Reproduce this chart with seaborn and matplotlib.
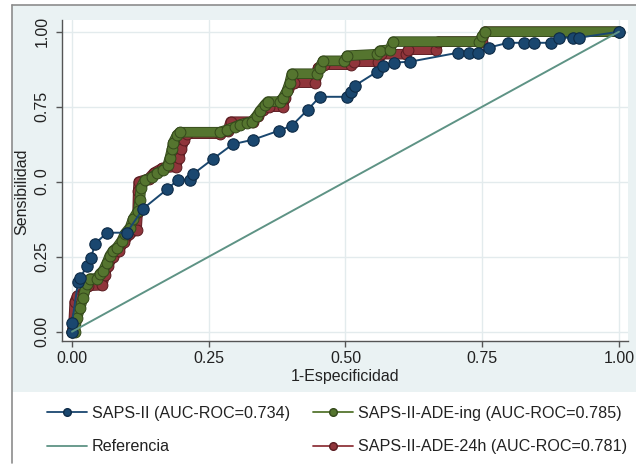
import numpy as np
import pandas as pd
import matplotlib
matplotlib.use("Agg")
import matplotlib.pyplot as plt
import matplotlib.patheffects as pe
from matplotlib.lines import Line2D
from matplotlib.patches import Rectangle
import seaborn as sns

# ---------------- data ----------------
saps_x = [0.0, 0.0, 0.011, 0.015, 0.027, 0.035, 0.042, 0.064, 0.100, 0.130, 0.174,
          0.194, 0.216, 0.221, 0.257, 0.294, 0.331, 0.378, 0.402, 0.431, 0.453,
          0.503, 0.510, 0.517, 0.558, 0.569, 0.589, 0.618, 0.706, 0.726, 0.742,
          0.762, 0.797, 0.826, 0.845, 0.876, 0.890, 0.916, 0.927, 1.0]
saps_y = [0.0, 0.03, 0.165, 0.178, 0.22, 0.247, 0.293, 0.33, 0.33, 0.41, 0.475,
          0.507, 0.507, 0.525, 0.575, 0.625, 0.64, 0.67, 0.687, 0.74, 0.783,
          0.783, 0.80, 0.82, 0.867, 0.887, 0.897, 0.90, 0.93, 0.93, 0.93,
          0.947, 0.963, 0.963, 0.963, 0.963, 0.98, 0.98, 0.98, 1.0]

ing_x = [0.0, 0.005, 0.009, 0.015, 0.020, 0.027, 0.033, 0.046, 0.051, 0.057, 0.064,
         0.069, 0.075, 0.082, 0.091, 0.097, 0.106, 0.112, 0.121, 0.124, 0.126,
         0.133, 0.146, 0.155, 0.166, 0.175, 0.179, 0.183, 0.185, 0.192, 0.197,
         0.270, 0.283, 0.298, 0.307, 0.320, 0.329, 0.338, 0.344, 0.353, 0.358,
         0.380, 0.386, 0.393, 0.398, 0.402, 0.448, 0.453, 0.459, 0.498, 0.503,
         0.558, 0.563, 0.581, 0.587, 0.745, 0.750, 0.755, 1.0]
ing_y = [0.0, 0.0, 0.047, 0.08, 0.113, 0.16, 0.177, 0.177, 0.193, 0.203, 0.23,
         0.253, 0.27, 0.28, 0.303, 0.327, 0.347, 0.377, 0.403, 0.44, 0.48,
         0.505, 0.515, 0.528, 0.538, 0.555, 0.58, 0.61, 0.63, 0.655, 0.665,
         0.665, 0.673, 0.683, 0.69, 0.697, 0.70, 0.72, 0.737, 0.757, 0.767,
         0.767, 0.78, 0.803, 0.83, 0.86, 0.86, 0.88, 0.903, 0.903, 0.92,
         0.925, 0.937, 0.94, 0.967, 0.967, 0.985, 1.0, 1.0]

h24_x = [0.0, 0.003, 0.005, 0.010, 0.020, 0.030, 0.055, 0.060, 0.065, 0.075, 0.085,
         0.095, 0.105, 0.118, 0.120, 0.121, 0.122, 0.140, 0.150, 0.165, 0.190,
         0.195, 0.200, 0.205, 0.210, 0.270, 0.285, 0.290, 0.330, 0.340, 0.350,
         0.360, 0.385, 0.390, 0.395, 0.405, 0.445, 0.450, 0.460, 0.510, 0.515,
         0.560, 0.565, 0.610, 0.615, 0.665, 0.670, 0.750, 0.755, 1.0]
h24_y = [0.0, 0.03, 0.10, 0.12, 0.13, 0.153, 0.155, 0.19, 0.22, 0.25, 0.27,
         0.30, 0.325, 0.34, 0.40, 0.47, 0.50, 0.51, 0.53, 0.545, 0.55,
         0.58, 0.61, 0.64, 0.66, 0.66, 0.67, 0.70, 0.70, 0.72, 0.74,
         0.75, 0.75, 0.78, 0.81, 0.83, 0.83, 0.88, 0.89, 0.89, 0.90,
         0.90, 0.925, 0.925, 0.94, 0.94, 0.967, 0.967, 1.0, 1.0]

ref_x = [0.0, 1.0]
ref_y = [0.0, 1.0]

tick_values = [0.0, 0.25, 0.5, 0.75, 1.0]
xtick_labels = ["0.00", "0.25", "0.50", "0.75", "1.00"]
ytick_labels = ["0.00", "0.25", "0. 0", "0.75", "1.00"]

label_saps = "SAPS-II (AUC-ROC=0.734)"
label_ing = "SAPS-II-ADE-ing (AUC-ROC=0.785)"
label_ref = "Referencia"
label_24h = "SAPS-II-ADE-24h (AUC-ROC=0.781)"

# ---------------- style ----------------
sns.set_theme(style="white")
plt.rcParams['font.family'] = ['Liberation Sans', 'DejaVu Sans']

NAVY, NAVY_E = "#1a476f", "#0e2b47"
GREEN, GREEN_E = "#55752f", "#34491b"
MAROON, MAROON_E = "#90353b", "#5a1c21"
TEAL = "#5e9385"
PANEL = "#eaf2f3"
GRID = "#e3ebed"
TXT = "#222222"

W, H = 636, 467
fig = plt.figure(figsize=(W / 100, H / 100), dpi=100)
fig.patch.set_facecolor("white")

# light outer panel + frame
fig.patches.append(Rectangle((12 / W, 1 - 392 / H), (W - 12) / W, (392 - 5) / H,
                             transform=fig.transFigure, facecolor=PANEL,
                             edgecolor="none", zorder=-10))
fig.add_artist(Line2D([12 / W, 12 / W], [1 - 5 / H, 1 - 463 / H],
                      transform=fig.transFigure, color="#8c8c8c", lw=1.2,
                      zorder=-5))
fig.add_artist(Line2D([12 / W, 1.0], [1 - 5 / H, 1 - 5 / H],
                      transform=fig.transFigure, color="#8c8c8c", lw=1.2,
                      zorder=-5))

ax = fig.add_axes([62 / W, 1 - 341 / H, (628 - 62) / W, (341 - 20) / H])
ax.set_zorder(5)
ax.set_facecolor("white")

# reference diagonal
sns.lineplot(x=ref_x, y=ref_y, ax=ax, color=TEAL, lw=1.4, sort=False,
             estimator=None, zorder=6)


def band(xs, ys, fc, ec, z):
    # thick band following the staircase of points
    sns.lineplot(x=xs, y=ys, ax=ax, sort=False, estimator=None, color=fc,
                 lw=6.4, solid_joinstyle="round", solid_capstyle="round",
                 zorder=z,
                 path_effects=[pe.Stroke(linewidth=7.6, foreground=ec),
                               pe.Normal()])
    # the points themselves
    sns.lineplot(x=xs, y=ys, ax=ax, sort=False, estimator=None, color=fc,
                 linestyle="none", marker="o", markersize=7.8,
                 markerfacecolor=fc, markeredgecolor=ec, markeredgewidth=0.7,
                 zorder=z + 0.1)


band(h24_x, h24_y, MAROON, MAROON_E, 3)
band(ing_x, ing_y, GREEN, GREEN_E, 4)

sns.lineplot(x=saps_x, y=saps_y, ax=ax, sort=False, estimator=None, color=NAVY,
             lw=1.4, marker="o", markersize=8.2, markerfacecolor=NAVY,
             markeredgecolor=NAVY_E, markeredgewidth=0.8, zorder=5)

# axes
ax.set_xlim(-0.0183, 1.0165)
ax.set_ylim(-0.031, 1.039)
ax.set_xticks(tick_values)
ax.set_xticklabels(xtick_labels)
ax.set_yticks(tick_values)
ax.set_yticklabels(ytick_labels, rotation=90, va="center")
ax.grid(True, color=GRID, lw=1.0)
ax.set_axisbelow(True)
for s in ["top", "right"]:
    ax.spines[s].set_visible(False)
for s in ["left", "bottom"]:
    ax.spines[s].set_color("#555555")
    ax.spines[s].set_linewidth(1.0)
ax.tick_params(axis="both", direction="out", length=4, width=1.0,
               color="#555555", labelsize=11.5, labelcolor=TXT, pad=3,
               bottom=True, left=True)
ax.tick_params(axis="y", pad=5)

ax.set_xlabel("1-Especificidad", fontsize=11.5, color=TXT)
ax.xaxis.set_label_coords(0.5, -0.088)
ax.set_ylabel("Sensibilidad", fontsize=11.5, color=TXT)
ax.yaxis.set_label_coords(-0.057, 0.465)

# legend (column-first order)
h_saps = Line2D([], [], color=NAVY, lw=1.3, marker="o", markersize=5.5,
                markerfacecolor=NAVY, markeredgecolor=NAVY_E)
h_ref = Line2D([], [], color=TEAL, lw=1.3)
h_ing = Line2D([], [], color=GREEN, lw=1.3, marker="o", markersize=5.5,
               markerfacecolor=GREEN, markeredgecolor=GREEN_E)
h_24h = Line2D([], [], color=MAROON, lw=1.3, marker="o", markersize=5.5,
               markerfacecolor=MAROON, markeredgecolor=MAROON_E)
fig.legend([h_saps, h_ref, h_ing, h_24h],
           [label_saps, label_ref, label_ing, label_24h],
           loc="center", bbox_to_anchor=(337 / W, 1 - 430 / H), ncol=2,
           frameon=False, fontsize=11.6, handlelength=2.5, handletextpad=0.3,
           columnspacing=1.4, labelspacing=1.15, labelcolor=TXT)

fig.savefig("out.png", dpi=100, facecolor=fig.get_facecolor())
